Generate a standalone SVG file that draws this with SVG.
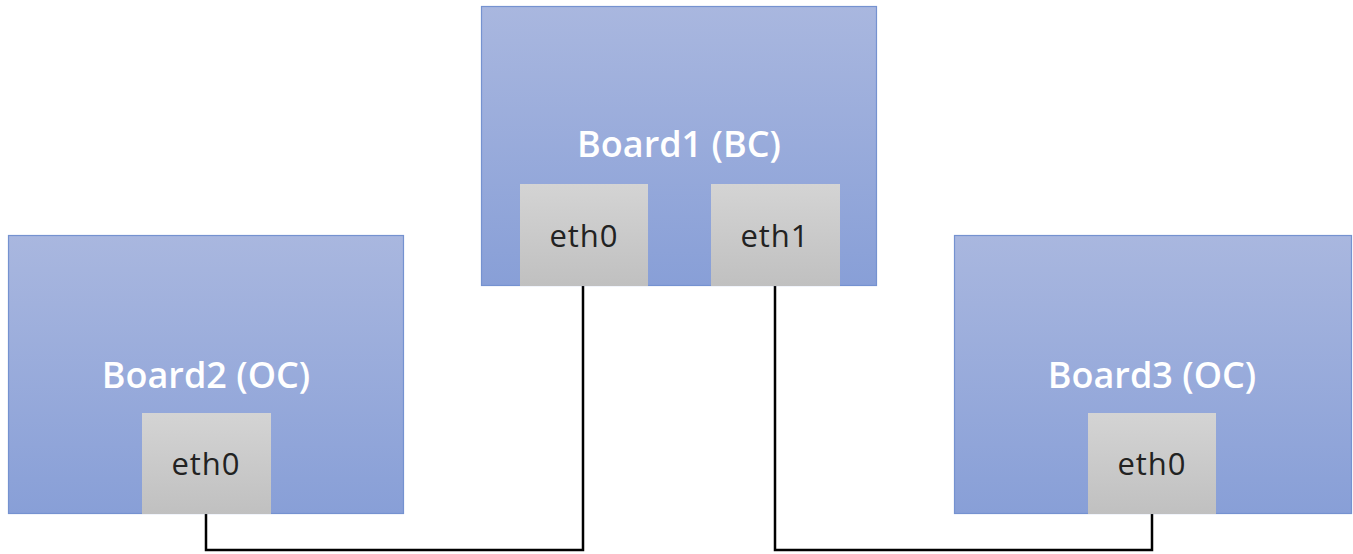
<svg xmlns="http://www.w3.org/2000/svg" width="1353" height="554" viewBox="0 0 1353 554">
<defs>
<linearGradient id="boardGrad" x1="0" y1="0" x2="0" y2="1">
<stop offset="0" stop-color="#a9b7df"/>
<stop offset="1" stop-color="#889fd7"/>
</linearGradient>
<linearGradient id="portGrad" x1="0" y1="0" x2="0" y2="1">
<stop offset="0" stop-color="#d4d4d4"/>
<stop offset="1" stop-color="#c0c0c0"/>
</linearGradient>
<style>
.board{fill:url(#boardGrad);stroke:#7592d0;stroke-width:1.2}
.port{fill:url(#portGrad);stroke:none}
.btxt{font-family:"Open Sans","Noto Sans",sans-serif;font-size:36px;font-weight:600;fill:#ffffff;text-anchor:middle}
.ptxt{font-family:"Open Sans","Noto Sans",sans-serif;font-size:31px;font-weight:400;letter-spacing:1px;fill:#222222;text-anchor:middle}
.wire{fill:none;stroke:#000000;stroke-width:2.5}
</style>
</defs>
<rect width="1353" height="554" fill="#ffffff"/>
<g id="connectors">
<polyline class="wire" points="206,514 206,550 583,550 583,286"/>
<polyline class="wire" points="775,286 775,550 1152,550 1152,514"/>
</g>
<g id="board1">
<rect class="board" x="481.5" y="6.5" width="395" height="279"/>
<text class="btxt" x="679" y="157">Board1 (BC)</text>
</g>
<g id="board1-eth0">
<rect class="port" x="520" y="184" width="128" height="102"/>
<text class="ptxt" x="584" y="247">eth0</text>
</g>
<g id="board1-eth1">
<rect class="port" x="711" y="184" width="129" height="102"/>
<text class="ptxt" x="775" y="247">eth1</text>
</g>
<g id="board2">
<rect class="board" x="8.5" y="235.5" width="395" height="278"/>
<text class="btxt" x="206" y="388">Board2 (OC)</text>
</g>
<g id="board2-eth0">
<rect class="port" x="142" y="413" width="129" height="101"/>
<text class="ptxt" x="206" y="475">eth0</text>
</g>
<g id="board3">
<rect class="board" x="954.5" y="235.5" width="397" height="278"/>
<text class="btxt" x="1152" y="388">Board3 (OC)</text>
</g>
<g id="board3-eth0">
<rect class="port" x="1088" y="413" width="128" height="101"/>
<text class="ptxt" x="1152" y="475">eth0</text>
</g>
</svg>
